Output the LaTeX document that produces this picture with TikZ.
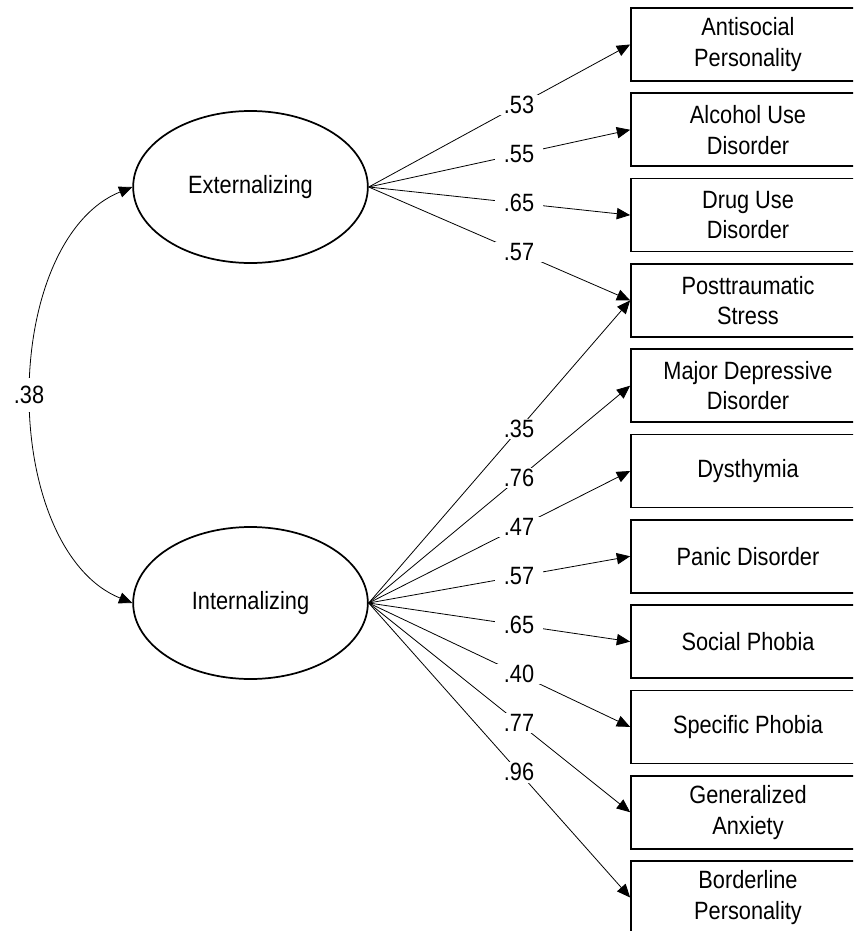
\documentclass[tikz,border=0pt]{standalone}
\usepackage{fontspec}
\setmainfont[FakeStretch=0.87]{Liberation Sans}
\usetikzlibrary{shapes.geometric,arrows.meta}
\begin{document}
\begin{tikzpicture}[x=0.75pt,y=-0.75pt,
  font=\fontsize{18.75}{23}\selectfont,
  lat/.style={ellipse,draw,line width=1.3pt,minimum width=176pt,minimum height=114pt,inner sep=0pt},
  obs/.style={rectangle,draw,line width=1.3pt,minimum width=175.5pt,minimum height=54.75pt,align=center,inner sep=0pt},
  pth/.style={line width=0.6pt,-{Triangle[length=10pt,width=8.5pt]}},
  coef/.style={fill=white,inner xsep=7pt,inner ysep=1pt,pos=0.575}]
\clip (0,0) rectangle (853,931);
\fill[white] (0,0) rectangle (853,931);
\node[lat] (ext) at (250.5,187) {Externalizing};
\node[lat] (int) at (250.5,603) {Internalizing};
\node[obs] (b0) at (748,44.5) {Antisocial\\Personality};
\node[obs] (b1) at (748,129.8) {Alcohol Use\\Disorder};
\node[obs] (b2) at (748,215.1) {Drug Use\\Disorder};
\node[obs] (b3) at (748,300.4) {Posttraumatic\\Stress};
\node[obs] (b4) at (748,385.7) {Major Depressive\\Disorder};
\node[obs] (b5) at (748,471) {Dysthymia};
\node[obs] (b6) at (748,556.3) {Panic Disorder};
\node[obs] (b7) at (748,641.6) {Social Phobia};
\node[obs] (b8) at (748,726.9) {Specific Phobia};
\node[obs] (b9) at (748,812.2) {Generalized\\Anxiety};
\node[obs] (b10) at (748,897.5) {Borderline\\Personality};
\draw[pth] (ext.east) -- node[coef] {.53} (b0.west);
\draw[pth] (ext.east) -- node[coef] {.55} (b1.west);
\draw[pth] (ext.east) -- node[coef] {.65} (b2.west);
\draw[pth] (ext.east) -- node[coef] {.57} (b3.west);
\draw[pth] (int.east) -- node[coef] {.35} (b3.west);
\draw[pth] (int.east) -- node[coef] {.76} (b4.west);
\draw[pth] (int.east) -- node[coef] {.47} (b5.west);
\draw[pth] (int.east) -- node[coef] {.57} (b6.west);
\draw[pth] (int.east) -- node[coef] {.65} (b7.west);
\draw[pth] (int.east) -- node[coef] {.40} (b8.west);
\draw[pth] (int.east) -- node[coef] {.77} (b9.west);
\draw[pth] (int.east) -- node[coef] {.96} (b10.west);
\coordinate (c38) at (29,395);
\draw[line width=0.6pt,{Triangle[length=10pt,width=8.5pt]}-{Triangle[length=10pt,width=8.5pt]}]
  (int.west) .. controls (63,575) and (29,490) .. (c38)
  .. controls (29,300) and (63,215) .. (ext.west);
\node[fill=white,inner xsep=1pt,inner ysep=6pt] at (c38) {.38};
\end{tikzpicture}
\end{document}
